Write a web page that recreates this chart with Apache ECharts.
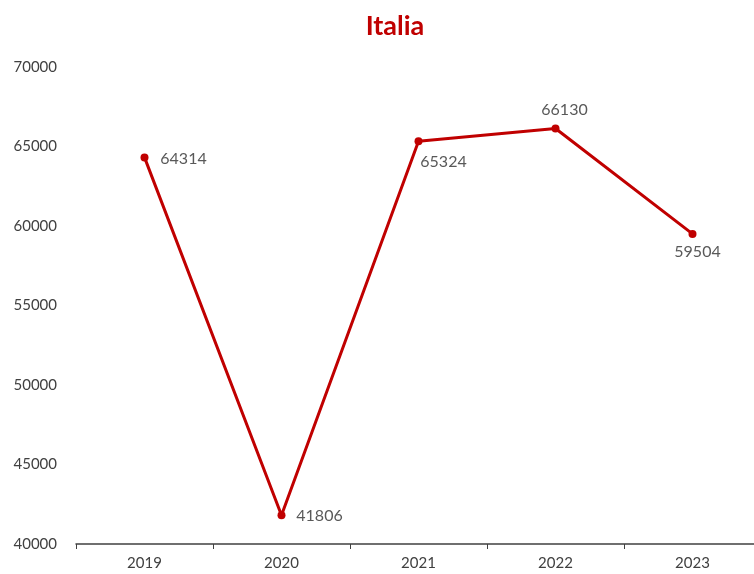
<!DOCTYPE html>
<html>
<head>
<meta charset="utf-8">
<script src="https://cdn.jsdelivr.net/npm/echarts@6/dist/echarts.min.js"></script>
<style>html,body{margin:0;padding:0;background:#fff;overflow:hidden}#c{width:761px;height:574px}</style>
</head>
<body>
<div id="c"></div>
<script>
const title = "Italia";
const categories = ["2019", "2020", "2021", "2022", "2023"];
const values = [64314, 41806, 65324, 66130, 59504];
const yTicks = [40000, 45000, 50000, 55000, 60000, 65000, 70000];

const labelOffsets = [[39, 1], [38, 1], [25, 20], [9, -19], [5, 18]];

const chart = echarts.init(document.getElementById('c'), null, {renderer: 'canvas'});
chart.setOption({
  animation: false,
  backgroundColor: '#ffffff',
  title: {
    text: title, left: 390, top: 8, textAlign: 'center',
    textStyle: {color: '#C00000', fontFamily: 'Lato', fontWeight: 'bold', fontSize: 27}
  },
  grid: {left: 76, right: 0, top: 67, bottom: 30, containLabel: false},
  xAxis: {
    type: 'category', data: categories, boundaryGap: true,
    axisLine: {show: true, lineStyle: {color: '#404040', width: 1.5}},
    axisTick: {show: true, alignWithLabel: false, length: 5, inside: false, lineStyle: {color: '#404040'}},
    axisLabel: {color: '#404040', fontFamily: 'Lato', fontSize: 15, margin: 12},
    splitLine: {show: false}
  },
  yAxis: {
    type: 'value', min: yTicks[0], max: yTicks[yTicks.length - 1], interval: 5000,
    axisLine: {show: false}, axisTick: {show: false}, splitLine: {show: false},
    axisLabel: {color: '#404040', fontFamily: 'Lato', fontSize: 15, margin: 19, formatter: v => String(v)}
  },
  series: [{
    type: 'line',
    data: values.map((v, i) => ({
      value: v,
      label: {show: true, position: 'inside', offset: labelOffsets[i]}
    })),
    symbol: 'circle', symbolSize: 8,
    lineStyle: {color: '#C00000', width: 3},
    itemStyle: {color: '#C00000'},
    label: {color: '#595959', fontFamily: 'Lato', fontSize: 16},
    z: 3
  }]
});
</script>
</body>
</html>
